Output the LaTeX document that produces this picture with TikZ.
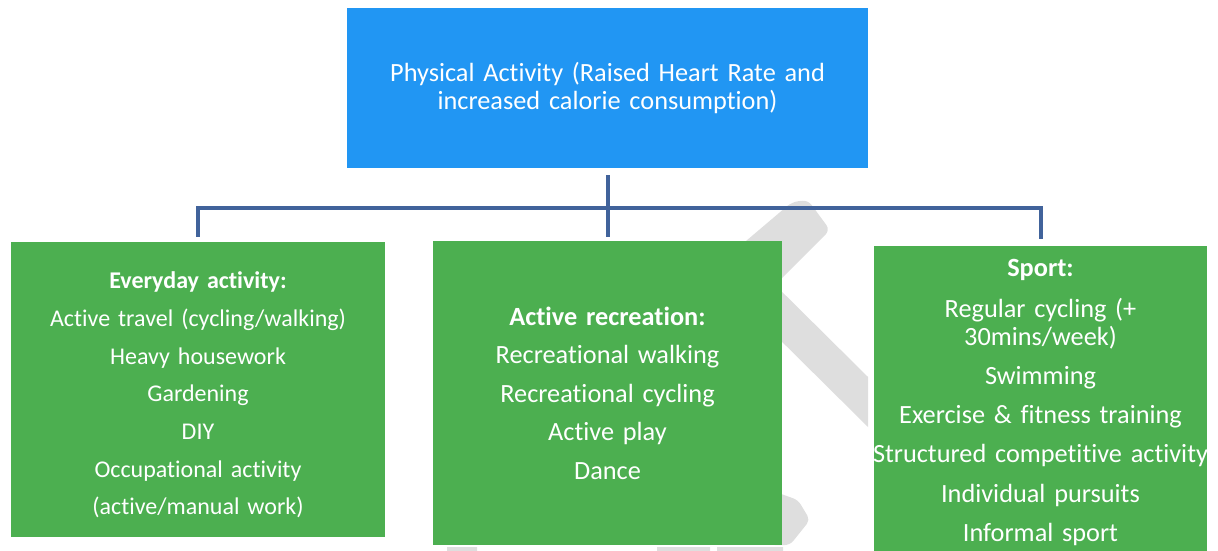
\documentclass[tikz,border=0pt]{standalone}
\usepackage{fontspec}
\setmainfont{Carlito}[Ligatures=NoCommon]
\definecolor{boxblue}{RGB}{33,150,243}
\definecolor{boxgreen}{RGB}{76,175,80}
\definecolor{linkblue}{RGB}{65,99,155}
\definecolor{markgray}{RGB}{222,222,222}

\begin{document}
\begin{tikzpicture}[x=1pt, y=-1pt,
    box/.style={fill=#1, text=white, align=center, inner sep=0pt, font=\fontsize{26.3}{28.5}\selectfont},
    link/.style={linkblue, line width=4pt}]
    \useasboundingbox (0,0) rectangle (1218,551);
    % faint logo behind the boxes
    \fill[markgray, rounded corners=6pt] (792,202) -- (808,200) -- (830,230) -- (740,320) -- (700,280) -- cycle;
    \fill[markgray] (760,270) -- (868,377) -- (868,427) -- (760,320) -- cycle;
    \fill[markgray, rounded corners=5pt] (770,490) -- (798,500) -- (810,520) -- (790,545) -- (770,545) -- cycle;
    \fill[markgray] (447,547) rectangle (477,551) (657,547) rectangle (710,551) (717,547) rectangle (783,551);
    % boxes
    \node[box=boxblue, text width=521pt, minimum height=160pt] (top) at (607.5,88)
        {Physical Activity (Raised Heart Rate and\\increased calorie consumption)};
    \node[box=boxgreen, text width=374pt, minimum height=295pt, font=\fontsize{24}{28.5}\selectfont] (everyday) at (198,389.5)
        {\rule{0pt}{28pt}\textbf{Everyday activity:}\\[9.2pt] Active travel (cycling/walking)\\[9.2pt] Heavy housework\\[9.2pt]
         Gardening\\[9.2pt] DIY\\[9.2pt] Occupational activity\\[9.2pt] (active/manual work)};
    \node[box=boxgreen, text width=349pt, minimum height=304pt] (recreation) at (607.5,393)
        {\textbf{Active recreation:}\\[10pt] Recreational walking\\[10pt] Recreational cycling\\[10pt]
         Active play\\[10pt] Dance};
    \node[box=boxgreen, text width=333pt, minimum height=306pt] (sport) at (1040.5,398.5)
        {\rule{0pt}{25pt}\textbf{Sport:}\\[12pt] Regular cycling (+\\ 30mins/week)\\[10.6pt] Swimming\\[10.6pt]
         Exercise \& fitness training\\[10.6pt] \makebox[333pt][c]{Structured competitive activity}\\[10.6pt]
         Individual pursuits\\[10.6pt] Informal sport};
    % connectors
    \coordinate (bus) at (607.5,208);
    \draw[link] ([yshift=-7pt]top.south) -- ([yshift=4pt]recreation.north);
    \draw[link] ([yshift=5pt]everyday.north) -- (everyday.north |- bus) -- (sport.north |- bus) -- ([yshift=6.5pt]sport.north);
\end{tikzpicture}
\end{document}
